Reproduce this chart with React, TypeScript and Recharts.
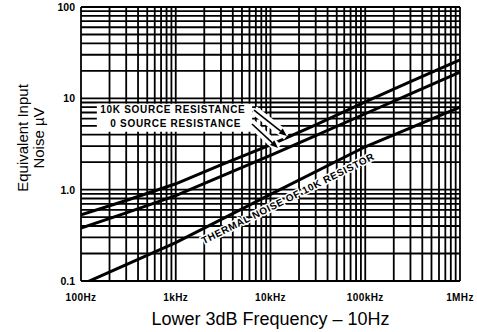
import {
  LineChart,
  Line,
  XAxis,
  YAxis,
  CartesianGrid,
  Label,
  ReferenceArea,
  ReferenceLine,
  ReferenceDot,
} from "recharts";

// frequency points (Hz)
const freqs = [100, 300, 1000, 3000, 10000, 30000, 100000, 300000, 1000000];
const noise10kSource = [0.53, 0.76, 1.16, 1.87, 3.09, 5.13, 9.14, 15.2, 26.3];
const noise0Source = [0.38, 0.556, 0.86, 1.4, 2.38, 3.91, 6.78, 11.2, 19.4];

const thermalFreqs = [100, 1000, 10000, 100000, 1000000];
const thermal10k = [0.091, 0.263, 0.89, 2.95, 8.0];

const xLabelValues = [100, 1000, 10000, 100000, 1000000];
const xLabelTexts = ["100Hz", "1kHz", "10kHz", "100kHz", "1MHz"];
const yLabelValues = [0.1, 1, 10, 100];
const yLabelTexts = ["0.1", "1.0", "10", "100"];

const steps = [1, 2, 3, 4, 5, 6, 7, 8, 9];
const xGrid = [...[100, 1000, 10000, 100000].flatMap((d) => steps.map((m) => d * m)), 1000000];
const yGrid = [...[0.1, 1, 10].flatMap((d) => steps.map((m) => d * m)), 100];

const data10k = freqs.map((f, i) => ({ f, v: noise10kSource[i] }));
const data0 = freqs.map((f, i) => ({ f, v: noise0Source[i] }));
const dataThermal = thermalFreqs.map((f, i) => ({ f, v: thermal10k[i] }));

const font = "'Liberation Sans', Arial, sans-serif";

const findIdx = (vals: number[], v: number) =>
  vals.findIndex((x) => Math.abs(x - v) < x * 1e-6);

const XTick = ({ x, y, payload }: any) => {
  const i = findIdx(xLabelValues, payload.value);
  if (i < 0) return <g />;
  return (
    <text x={x} y={y + 18} textAnchor="middle" fontSize={10} fontWeight="bold" letterSpacing={0.4} fontFamily={font} fill="#000">
      {xLabelTexts[i]}
    </text>
  );
};

const YTick = ({ x, y, payload }: any) => {
  const i = findIdx(yLabelValues, payload.value);
  if (i < 0) return <g />;
  return (
    <text x={x - 4} y={y + 4} textAnchor="end" fontSize={10.5} fontWeight="bold" fontFamily={font} fill="#000">
      {yLabelTexts[i]}
    </text>
  );
};

const Arrow = (props: any) => {
  const { x1, y1, x2, y2 } = props;
  const a = Math.atan2(y2 - y1, x2 - x1);
  const h = 8;
  const w = 3.2;
  const bx = x2 - h * Math.cos(a);
  const by = y2 - h * Math.sin(a);
  const pts = `${x2},${y2} ${bx + w * Math.sin(a)},${by - w * Math.cos(a)} ${bx - w * Math.sin(a)},${by + w * Math.cos(a)}`;
  return (
    <g>
      <line x1={x1} y1={y1} x2={x2} y2={y2} stroke="#fff" strokeWidth={9} />
      <line x1={x1} y1={y1} x2={bx} y2={by} stroke="#000" strokeWidth={1.6} />
      <polygon points={pts} fill="#000" />
    </g>
  );
};

const labelText = (txt: string, dx: number) => (props: any) => (
  <text x={props.cx + dx} y={props.cy + 3.5} fontSize={10} letterSpacing={0.7} fontWeight="bold" fontFamily={font} fill="#000">
    {txt}
  </text>
);

const ThermalText = (props: any) => (
  <text
    transform={`translate(${props.cx},${props.cy}) rotate(-26.5)`}
    x={0}
    y={15}
    textAnchor="middle"
    fontSize={10}
    letterSpacing={0.6}
    fontWeight="bold"
    fontFamily={font}
    fill="#000"
    stroke="#fff"
    strokeWidth={3}
    paintOrder="stroke"
  >
    THERMAL NOISE OF 10K RESISTOR
  </text>
);

export default function App() {
  return (
    <div style={{ position: "absolute", left: 0, top: 0, width: 477, height: 332, background: "#fff" }}>
      <LineChart width={477} height={332} margin={{ top: 7, right: 17, bottom: 0, left: 0 }}>
        <CartesianGrid stroke="#000" strokeWidth={1.8} />
        <XAxis
          dataKey="f"
          type="number"
          scale="log"
          domain={[100, 1000000]}
          ticks={xGrid}
          interval={0}
          height={51}
          axisLine={false}
          tickLine={false}
          tickSize={0}
          tick={<XTick />}
          allowDataOverflow
        >
          <Label
            content={({ viewBox }: any) => (
              <text x={viewBox.x + viewBox.width / 2} y={viewBox.y + 44} textAnchor="middle" fontSize={18} fontFamily={font} fill="#000">
                Lower 3dB Frequency – 10Hz
              </text>
            )}
          />
        </XAxis>
        <YAxis
          type="number"
          scale="log"
          domain={[0.1, 100]}
          ticks={yGrid}
          interval={0}
          width={81}
          axisLine={false}
          tickLine={false}
          tickSize={0}
          tick={<YTick />}
          allowDataOverflow
        >
          <Label
            content={({ viewBox }: any) => {
              const cy = viewBox.y + viewBox.height / 2 - 6;
              return (
                <g transform={`translate(${viewBox.x + 28},${cy}) rotate(-90)`}>
                  <text x={0} y={0} textAnchor="middle" fontSize={15} fontFamily={font} fill="#000">
                    Equivalent Input
                  </text>
                  <text x={0} y={16} textAnchor="middle" fontSize={15} fontFamily={font} fill="#000">
                    Noise µV
                  </text>
                </g>
              );
            }}
          />
        </YAxis>
        <ReferenceArea x1={147} x2={6400} y1={4.3} y2={8.7} fill="#fff" fillOpacity={1} stroke="none" />
        <Line data={data10k} dataKey="v" stroke="#000" strokeWidth={3} dot={false} isAnimationActive={false} />
        <Line data={data0} dataKey="v" stroke="#000" strokeWidth={3} dot={false} isAnimationActive={false} />
        <Line data={dataThermal} dataKey="v" stroke="#000" strokeWidth={3} dot={false} isAnimationActive={false} />
        <ReferenceLine segment={[{ x: 6700, y: 7.45 }, { x: 14900, y: 3.87 }]} shape={<Arrow />} />
        <ReferenceLine segment={[{ x: 6380, y: 5.24 }, { x: 12000, y: 2.86 }]} shape={<Arrow />} />
        <ReferenceDot x={160} y={7.5} r={0} shape={labelText("10K SOURCE RESISTANCE", 0)} />
        <ReferenceDot x={160} y={5.3} r={0} shape={labelText("0 SOURCE RESISTANCE", 10)} />
        <ReferenceDot x={13500} y={1.04} r={0} shape={ThermalText} />
      </LineChart>
    </div>
  );
}
